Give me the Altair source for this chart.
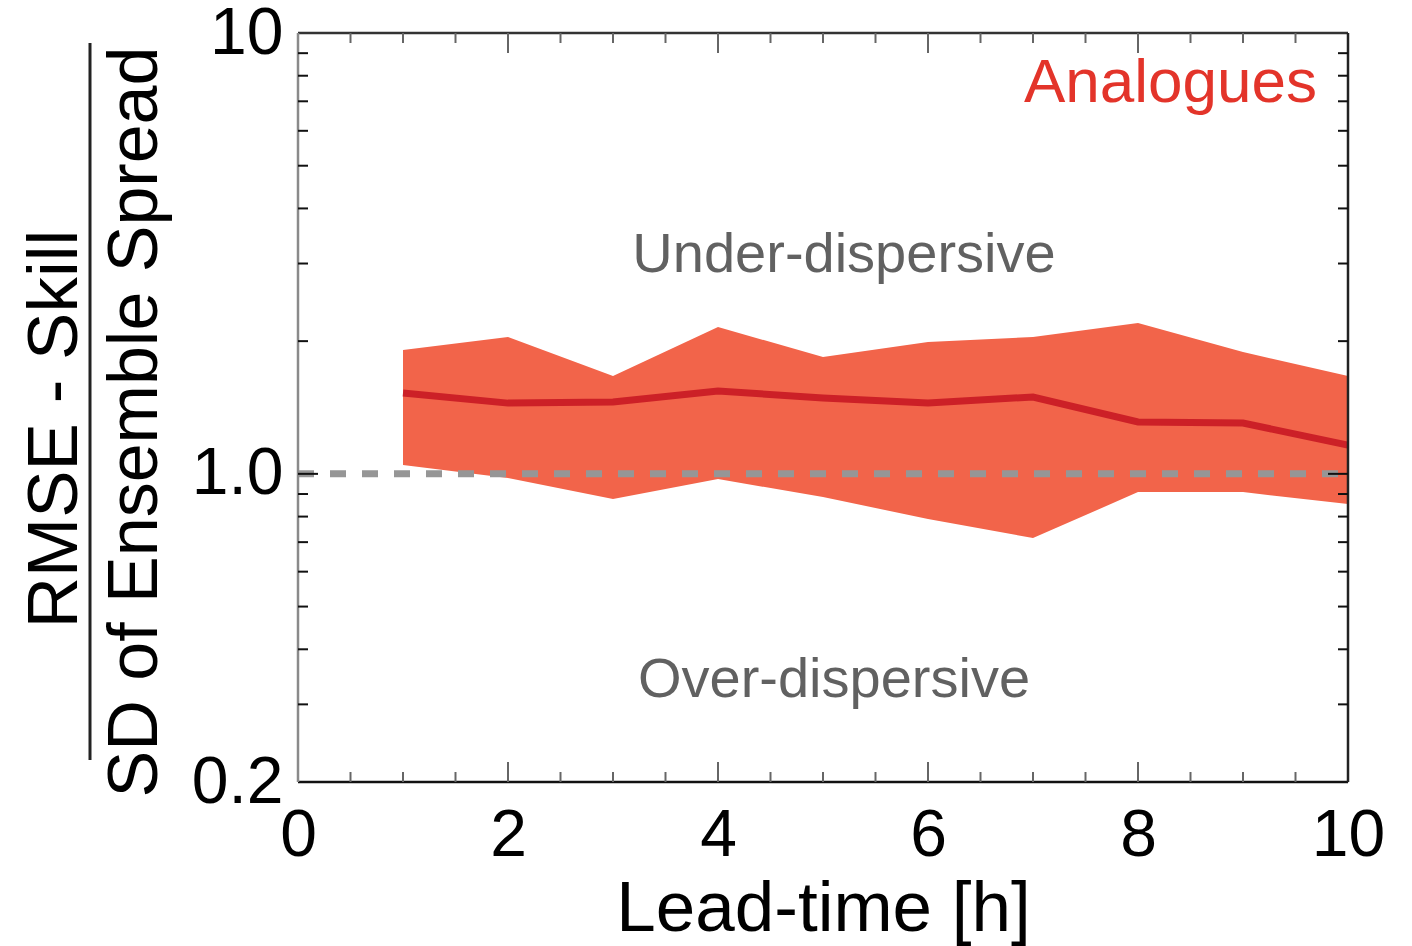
import altair as alt
import pandas as pd

# ---- data ----
lead_time = [1, 2, 3, 4, 5, 6, 7, 8, 9, 10]
ratio_line = [1.525, 1.447, 1.455, 1.541, 1.486, 1.447, 1.494, 1.311, 1.304, 1.162]
ratio_upper = [1.909, 2.043, 1.667, 2.153, 1.841, 1.991, 2.043, 2.198, 1.889, 1.667]
ratio_lower = [1.047, 0.978, 0.877, 0.973, 0.886, 0.790, 0.715, 0.909, 0.909, 0.854]

x_label_values = [0, 2, 4, 6, 8, 10]
y_label_values = [0.2, 1, 10]
x_major_ticks = [2, 4, 6, 8]
x_minor_ticks = [0.5, 1, 1.5, 2.5, 3, 3.5, 4.5, 5, 5.5, 6.5, 7, 7.5, 8.5, 9, 9.5]
y_major_ticks = [1]
y_minor_ticks = [0.3, 0.4, 0.5, 0.6, 0.7, 0.8, 0.9, 2, 3, 4, 5, 6, 7, 8, 9]
x_domain = [0, 10]
y_domain = [0.2, 10]
reference_level = [1]

series_name = ["Analogues"]
region_upper = ["Under-dispersive"]
region_lower = ["Over-dispersive"]
ytitle_num = ["RMSE - Skill"]
ytitle_den = ["SD of Ensemble Spread"]
xtitle = "Lead-time [h]"

FONT = "Liberation Sans"
W, H = 1050, 749

df = pd.DataFrame({"t": lead_time, "m": ratio_line, "hi": ratio_upper, "lo": ratio_lower})

xs = alt.Scale(domain=x_domain, nice=False, zero=False)
ys = alt.Scale(type="log", domain=y_domain, nice=False)

x_axis = alt.Axis(values=x_label_values, labelFontSize=66, labelFont=FONT, labelColor="#000",
                  ticks=False, tickSize=0, domain=False, grid=False, labelPadding=21,
                  title=xtitle, titleFontSize=71, titleFont=FONT, titleFontWeight="normal",
                  titleColor="#000", titlePadding=6, labelFlush=False)
y_axis = alt.Axis(values=y_label_values, labelFontSize=66, labelFont=FONT, labelColor="#000",
                  labelExpr="datum.value >= 10 ? '10' : format(datum.value, '.1f')",
                  ticks=False, tickSize=0, domain=False, grid=False, labelPadding=15,
                  title=None, labelFlush=False)

band = alt.Chart(df).mark_area(color="#f2644a", opacity=1).encode(
    x=alt.X("t:Q", scale=xs, axis=x_axis),
    y=alt.Y("lo:Q", scale=ys, axis=y_axis),
    y2="hi:Q",
)

ref_df = pd.DataFrame({"x0": [x_domain[0]], "x1": [x_domain[1]], "y": reference_level})
dash = alt.Chart(ref_df).mark_rule(color="#969696", strokeWidth=7, strokeDash=[16, 16]).encode(
    x=alt.X("x0:Q", scale=xs, axis=x_axis), x2="x1:Q",
    y=alt.Y("y:Q", scale=ys, axis=y_axis),
)

line = alt.Chart(df).mark_line(color="#cc2027", strokeWidth=7).encode(
    x=alt.X("t:Q", scale=xs, axis=x_axis),
    y=alt.Y("m:Q", scale=ys, axis=y_axis),
)

# frame
frame_h = pd.DataFrame({"x0": [x_domain[0]] * 2, "x1": [x_domain[1]] * 2, "y": y_domain,
                        "c": ["#111111", "#333333"]})
frame_hr = alt.Chart(frame_h).mark_rule(strokeWidth=2.5).encode(
    x=alt.X("x0:Q", scale=xs, axis=x_axis), x2="x1:Q",
    y=alt.Y("y:Q", scale=ys, axis=y_axis),
    color=alt.Color("c:N", scale=None),
)
frame_v = pd.DataFrame({"x": x_domain, "y0": [y_domain[0]] * 2, "y1": [y_domain[1]] * 2,
                        "c": ["#8a8a8a", "#222222"]})
frame_vr = alt.Chart(frame_v).mark_rule(strokeWidth=2.5).encode(
    x=alt.X("x:Q", scale=xs, axis=x_axis),
    y=alt.Y("y0:Q", scale=ys, axis=y_axis), y2="y1:Q",
    color=alt.Color("c:N", scale=None),
)

# ticks (inward)
def xticks(values, length, color):
    d = pd.DataFrame({"v": values})
    bottom = alt.Chart(d).mark_rule(color=color, strokeWidth=2).encode(
        x=alt.X("v:Q", scale=xs, axis=x_axis), y=alt.value(H), y2=alt.value(H - length))
    top = alt.Chart(d).mark_rule(color=color, strokeWidth=2).encode(
        x=alt.X("v:Q", scale=xs, axis=x_axis), y=alt.value(0), y2=alt.value(length))
    return [bottom, top]

def yticks(values, length, color):
    d = pd.DataFrame({"v": values})
    left = alt.Chart(d).mark_rule(color=color, strokeWidth=2).encode(
        y=alt.Y("v:Q", scale=ys, axis=y_axis), x=alt.value(0), x2=alt.value(length))
    right = alt.Chart(d).mark_rule(color=color, strokeWidth=2).encode(
        y=alt.Y("v:Q", scale=ys, axis=y_axis), x=alt.value(W), x2=alt.value(W - length))
    return [left, right]

tick_layers = (xticks(x_major_ticks, 20, "#666666") + xticks(x_minor_ticks, 10, "#666666")
               + yticks(y_major_ticks, 20, "#111111") + yticks(y_minor_ticks, 10, "#111111"))

# annotations
def text_layer(labels, x, y, size, color, align="center", angle=0):
    d = pd.DataFrame({"label": labels})
    kw = dict(font=FONT, fontSize=size, color=color, align=align, baseline="alphabetic")
    if angle:
        kw["angle"] = angle
    return alt.Chart(d).mark_text(**kw).encode(
        x=alt.value(x), y=alt.value(y), text="label:N")

ann = [
    text_layer(series_name, 1019, 69, 62, "#e3342a", align="right"),
    text_layer(region_upper, 546, 239, 56, "#616161"),
    text_layer(region_lower, 536, 664, 56, "#616161"),
    text_layer(ytitle_num, -221, 396, 71, "#000000", angle=270),
    text_layer(ytitle_den, -141, 389, 70, "#000000", angle=270),
]

frac_df = pd.DataFrame({"k": [0]})
frac = alt.Chart(frac_df).mark_rule(color="#222222", strokeWidth=3).encode(
    x=alt.value(-208), y=alt.value(10), y2=alt.value(727))

chart = alt.layer(band, dash, line, frame_hr, frame_vr, *tick_layers, *ann, frac).properties(
    width=W, height=H,
    autosize=alt.AutoSizeParams(type="none"),
    padding={"left": 298, "top": 33, "right": 64, "bottom": 164},
).configure_view(stroke=None).configure(font=FONT, background="white")

chart.save("out.html", embed_options={"renderer": "svg", "actions": False})
